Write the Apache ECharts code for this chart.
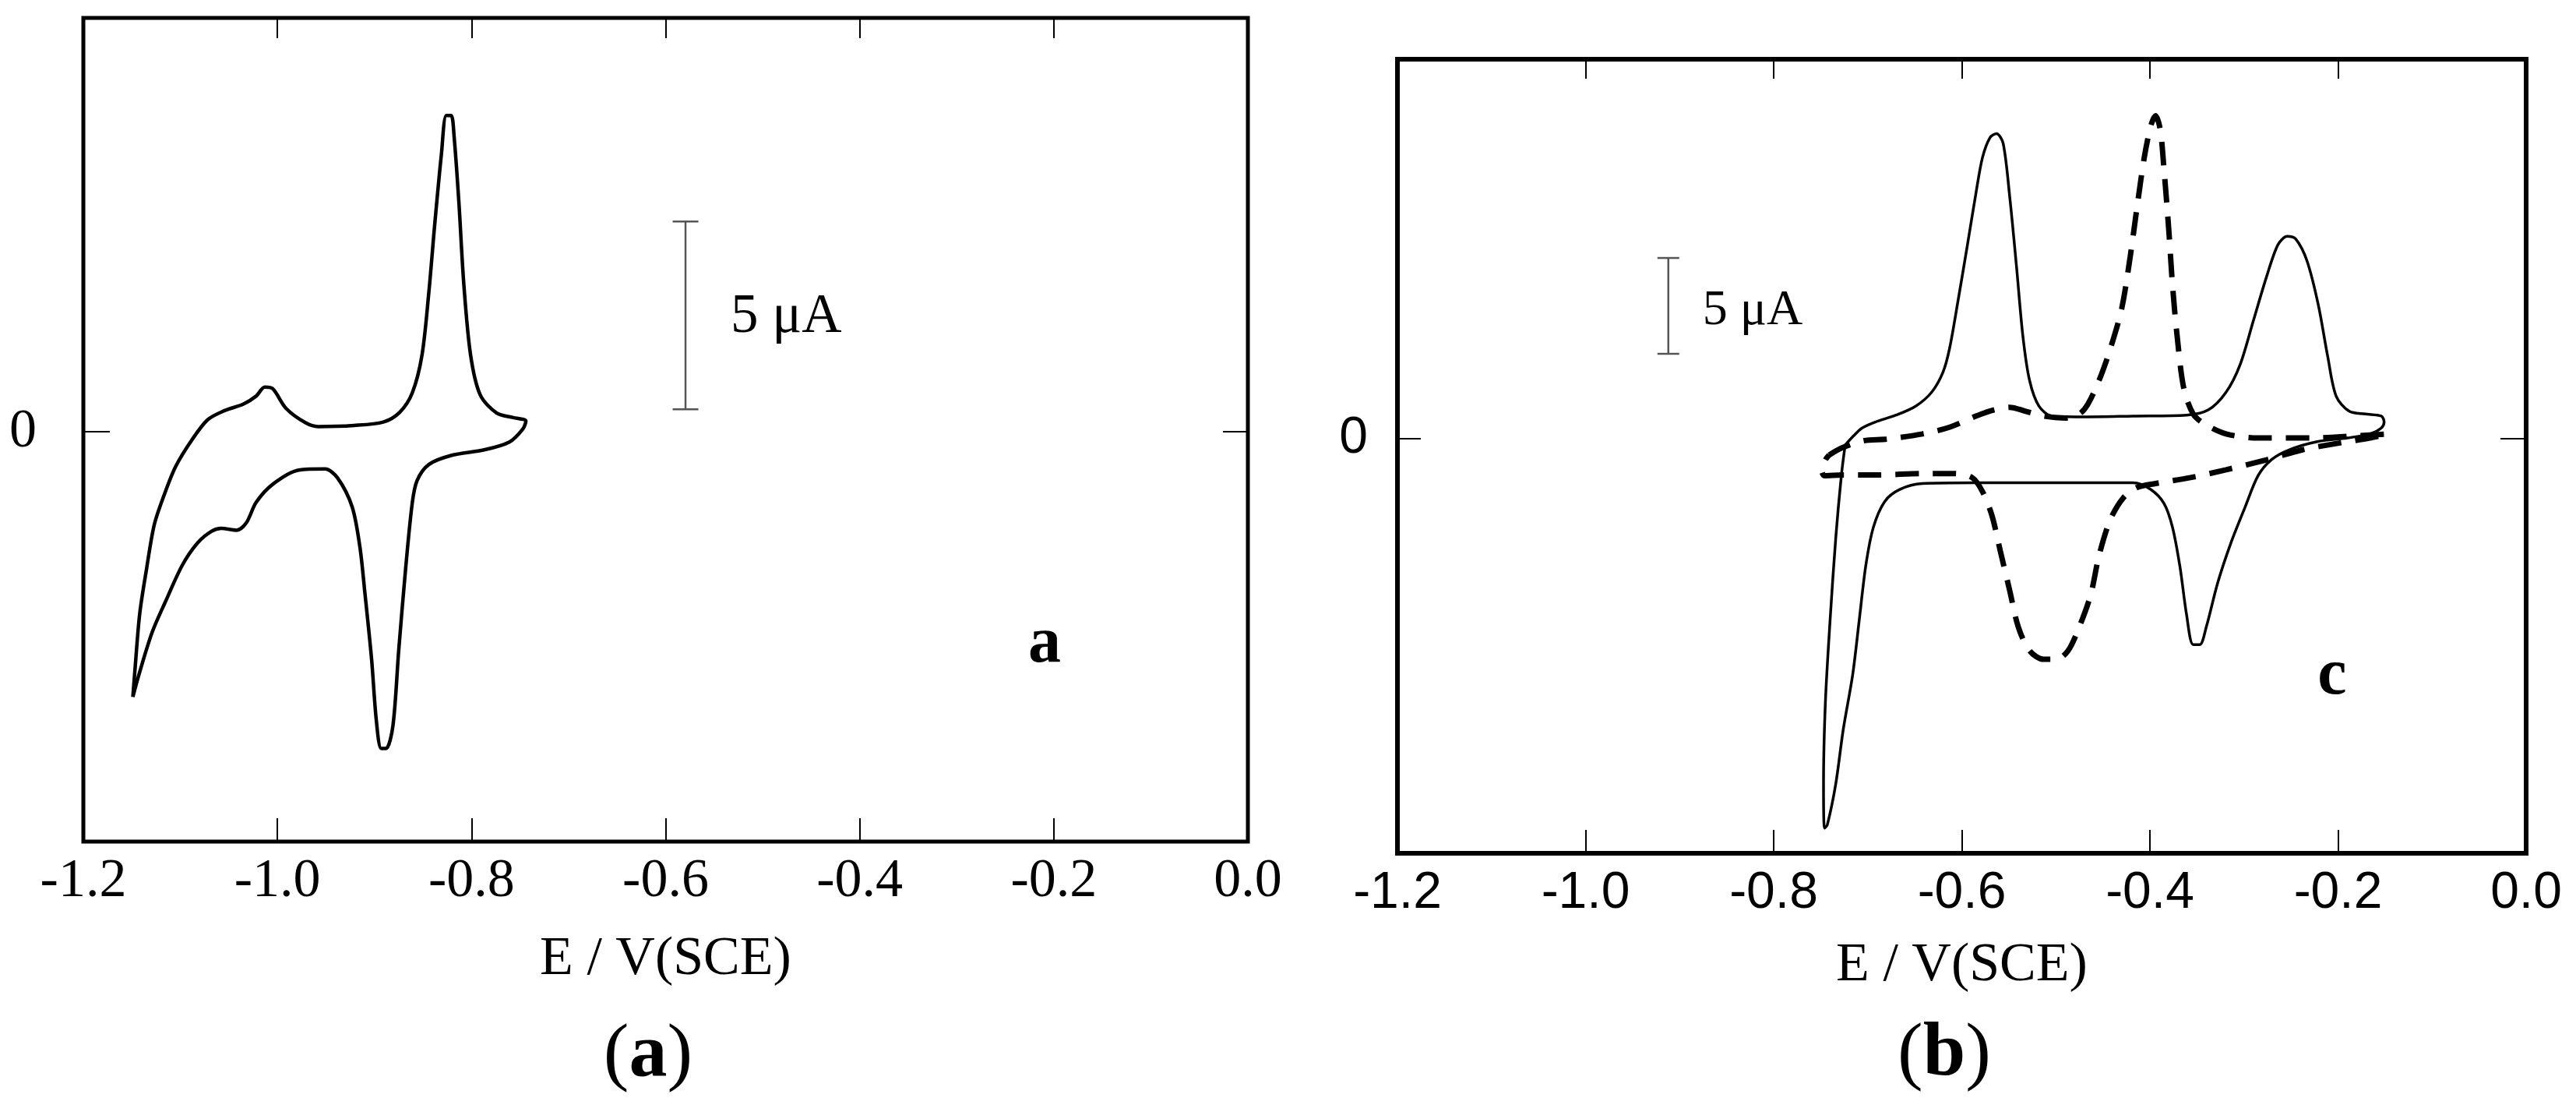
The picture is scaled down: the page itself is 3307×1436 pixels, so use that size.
<!DOCTYPE html>
<html>
<head>
<meta charset="utf-8">
<script src="https://cdn.jsdelivr.net/npm/echarts@6/dist/echarts.min.js"></script>
<style>
html,body{margin:0;padding:0;background:#fff;}
#chart{width:3307px;height:1436px;}
</style>
</head>
<body>
<div id="chart"></div>
<script>
// ---------------- DATA ----------------
// x axis: potential E / V(SCE)
const xMin = -1.2, xMax = 0.0, xStep = 0.2;
// y axis: current in µA (only 0 is labelled)
const yRangeA = [-10.91, 11.02];
const yRangeB = [-21.65, 19.78];
const yTickValues = [0];

// Panel (a): cyclic voltammogram, closed loop [E, I(µA)]
const curveA = [
  [-1.149,-7.06],[-1.147,-6.40],[-1.142,-4.86],[-1.135,-3.67],[-1.127,-2.48],[-1.117,-1.70],
  [-1.105,-0.93],[-1.088,-0.21],[-1.072,0.32],[-1.055,0.56],[-1.035,0.74],[-1.022,0.95],
  [-1.013,1.19],[-1.005,1.15],[-0.991,0.62],[-0.971,0.24],[-0.958,0.14],[-0.921,0.17],
  [-0.891,0.26],[-0.874,0.52],[-0.861,1.04],[-0.851,2.05],[-0.844,3.71],[-0.838,5.50],
  [-0.831,7.40],[-0.826,8.42],[-0.821,8.42],[-0.818,7.88],[-0.813,6.10],[-0.808,3.95],
  [-0.801,2.05],[-0.791,0.98],[-0.774,0.50],[-0.757,0.38],[-0.744,0.29],
  [-0.747,0.08],[-0.761,-0.27],[-0.787,-0.48],[-0.821,-0.63],[-0.844,-0.87],[-0.856,-1.29],
  [-0.861,-1.88],[-0.868,-3.67],[-0.875,-5.81],[-0.881,-7.83],[-0.888,-8.43],[-0.893,-8.43],
  [-0.898,-7.71],[-0.903,-6.05],[-0.910,-4.26],[-0.915,-3.07],[-0.923,-2.00],[-0.938,-1.23],
  [-0.951,-0.99],[-0.978,-1.02],[-1.005,-1.40],[-1.022,-1.88],[-1.032,-2.42],[-1.042,-2.62],
  [-1.058,-2.57],[-1.068,-2.65],[-1.082,-2.95],[-1.098,-3.55],[-1.115,-4.50],[-1.129,-5.33],
  [-1.142,-6.40],[-1.149,-7.06]
];

// Panel (b): solid voltammogram, closed loop [E, I(µA)]
const curveBSolid = [
  [-0.724,-0.35],[-0.715,0.13],[-0.706,0.54],[-0.692,0.85],[-0.670,1.21],[-0.649,1.68],
  [-0.632,2.41],[-0.620,3.45],[-0.613,4.69],[-0.604,7.18],[-0.594,10.09],[-0.585,12.78],
  [-0.578,14.65],[-0.570,15.69],[-0.563,15.90],[-0.556,15.38],[-0.549,12.58],[-0.542,9.05],
  [-0.535,5.31],[-0.528,3.03],[-0.518,1.68],[-0.504,1.16],[-0.466,1.12],[-0.418,1.16],
  [-0.361,1.21],[-0.338,1.48],[-0.319,2.41],[-0.304,3.86],[-0.290,6.14],[-0.276,8.43],
  [-0.264,10.09],[-0.254,10.54],[-0.245,10.40],[-0.233,9.26],[-0.221,6.97],[-0.211,4.28],
  [-0.202,2.20],[-0.188,1.41],[-0.171,1.27],[-0.154,1.16],[-0.151,0.85],
  [-0.154,0.54],[-0.166,0.23],[-0.190,0.02],[-0.223,-0.18],[-0.252,-0.60],[-0.271,-1.12],
  [-0.285,-1.95],[-0.299,-3.61],[-0.314,-5.47],[-0.328,-7.55],[-0.340,-9.83],[-0.347,-10.76],
  [-0.354,-10.76],[-0.361,-9.21],[-0.368,-6.72],[-0.376,-4.64],[-0.385,-3.40],[-0.399,-2.67],
  [-0.418,-2.32],[-0.490,-2.32],[-0.585,-2.32],[-0.642,-2.36],[-0.666,-2.67],[-0.682,-3.30],
  [-0.694,-4.64],[-0.702,-6.62],[-0.709,-9.47],[-0.716,-12.33],[-0.726,-15.18],[-0.734,-18.03],
  [-0.743,-20.17],[-0.746,-20.34],[-0.747,-18.03],[-0.745,-13.75],[-0.740,-9.47],[-0.734,-5.20],
  [-0.728,-1.92],[-0.724,-0.35]
];

// Panel (b): dashed voltammogram, closed loop [E, I(µA)]
const curveBDashed = [
  [-0.741,-0.87],[-0.727,-0.49],[-0.704,-0.12],[-0.680,-0.04],[-0.642,0.23],[-0.613,0.58],
  [-0.585,1.16],[-0.566,1.48],[-0.549,1.62],[-0.532,1.41],[-0.513,1.16],[-0.490,1.06],
  [-0.475,1.27],[-0.466,1.78],[-0.454,3.03],[-0.442,4.69],[-0.430,6.77],[-0.421,9.46],
  [-0.414,11.95],[-0.406,14.65],[-0.399,16.31],[-0.394,16.83],[-0.389,16.10],[-0.385,14.03],
  [-0.380,10.92],[-0.376,8.01],[-0.371,5.31],[-0.364,2.61],[-0.354,1.27],[-0.342,0.75],
  [-0.319,0.23],[-0.285,0.02],[-0.228,0.02],[-0.181,0.13],[-0.147,0.23],
  [-0.166,0.02],[-0.204,-0.29],[-0.238,-0.60],[-0.276,-1.12],[-0.319,-1.64],[-0.357,-2.05],
  [-0.394,-2.36],[-0.414,-2.57],[-0.428,-3.09],[-0.442,-4.23],[-0.454,-6.10],[-0.463,-8.17],
  [-0.475,-9.83],[-0.487,-11.08],[-0.499,-11.53],[-0.513,-11.53],[-0.528,-11.08],[-0.540,-9.83],
  [-0.549,-7.96],[-0.559,-5.89],[-0.568,-4.02],[-0.578,-2.78],[-0.589,-2.05],[-0.608,-1.84],
  [-0.642,-1.84],[-0.689,-1.91],[-0.727,-1.91],[-0.746,-1.95],[-0.749,-1.64],[-0.745,-1.12],
  [-0.741,-0.87]
];

// Scale bars: [E position, lower I, upper I] (5 µA long)
const scaleBarA = [[-0.5795, 0.60, 5.60]];
const scaleBarB = [[-0.912, 4.41, 9.41]];
const scaleLabel = '5 μA';
const xAxisTitle = 'E / V(SCE)';
const panelTags = ['a', 'c'];
const panelCaptions = ['a', 'b'];

// ---------------- CHART ----------------
const SERIF = 'Liberation Serif';
const SANS = 'Liberation Sans';
const chart = echarts.init(document.getElementById('chart'), null, {renderer: 'canvas'});

function fmtX(v) { return Math.abs(v) < 1e-9 ? '0.0' : v.toFixed(1); }

function bottomX(grid, font, size, margin, nameGap) {
  return {
    gridIndex: grid, type: 'value', min: xMin, max: xMax, interval: xStep, position: 'bottom',
    axisLine: {show: false, onZero: false}, splitLine: {show: false},
    axisTick: {inside: true, length: 30, lineStyle: {color: '#000', width: 2}},
    axisLabel: {formatter: fmtX, color: '#000', fontFamily: font, fontSize: size, margin: margin},
    name: xAxisTitle, nameLocation: 'middle', nameGap: nameGap,
    nameTextStyle: {fontFamily: SERIF, fontSize: 70, color: '#000'}
  };
}
function topX(grid, len) {
  return {
    gridIndex: grid, type: 'value', min: xMin, max: xMax, interval: xStep, position: 'top',
    axisLine: {show: false, onZero: false}, splitLine: {show: false},
    axisTick: {inside: true, length: len, lineStyle: {color: '#000', width: 2}},
    axisLabel: {show: false}
  };
}
function leftY(grid, range, font, size, margin, len) {
  return {
    gridIndex: grid, type: 'value', min: range[0], max: range[1], position: 'left',
    axisLine: {show: false, onZero: false}, splitLine: {show: false},
    axisTick: {inside: true, length: len, customValues: yTickValues, lineStyle: {color: '#000', width: 2}},
    axisLabel: {customValues: yTickValues, formatter: v => String(Math.round(v)), color: '#000',
                fontFamily: font, fontSize: size, margin: margin}
  };
}
function rightY(grid, range, len) {
  return {
    gridIndex: grid, type: 'value', min: range[0], max: range[1], position: 'right',
    axisLine: {show: false, onZero: false}, splitLine: {show: false},
    axisTick: {inside: true, length: len, customValues: yTickValues, lineStyle: {color: '#000', width: 2}},
    axisLabel: {show: false}
  };
}

function scaleBarSeries(xi, yi, data, capHalf, textDx, textDy, fontSize) {
  return {
    type: 'custom', xAxisIndex: xi, yAxisIndex: yi, data: data, silent: true,
    encode: {x: 0, y: [1, 2]}, clip: false,
    renderItem: function (params, api) {
      const x = api.value(0), lo = api.value(1), hi = api.value(2);
      const pT = api.coord([x, hi]), pB = api.coord([x, lo]);
      const st = {stroke: '#555', lineWidth: 2.5};
      return {
        type: 'group',
        children: [
          {type: 'line', shape: {x1: pT[0], y1: pT[1], x2: pB[0], y2: pB[1]}, style: st},
          {type: 'line', shape: {x1: pT[0] - capHalf, y1: pT[1], x2: pT[0] + capHalf, y2: pT[1]}, style: st},
          {type: 'line', shape: {x1: pB[0] - capHalf, y1: pB[1], x2: pB[0] + capHalf, y2: pB[1]}, style: st},
          {type: 'text', style: {text: scaleLabel, x: pT[0] + textDx, y: (pT[1] + pB[1]) / 2 + textDy,
            fill: '#000', fontFamily: SERIF, fontSize: fontSize, align: 'left', verticalAlign: 'middle'}}
        ]
      };
    }
  };
}

const richCaption = {
  p: {fontFamily: SERIF, fontSize: 98, fontWeight: 'normal', fill: '#000'},
  b: {fontFamily: SERIF, fontSize: 98, fontWeight: 'bold', fill: '#000'}
};

const option = {
  backgroundColor: '#fff',
  animation: false,
  grid: [
    {left: 107, top: 23, width: 1495, height: 1057, show: true, borderColor: '#000', borderWidth: 5, backgroundColor: 'transparent'},
    {left: 1794, top: 76, width: 1449, height: 1019, show: true, borderColor: '#000', borderWidth: 6, backgroundColor: 'transparent'}
  ],
  xAxis: [
    bottomX(0, SERIF, 70, 17, 117),
    topX(0, 26),
    bottomX(1, SANS, 66, 19, 110),
    topX(1, 25)
  ],
  yAxis: [
    leftY(0, yRangeA, SERIF, 70, 60, 34),
    rightY(0, yRangeA, 32),
    leftY(1, yRangeB, SANS, 66, 38, 30),
    rightY(1, yRangeB, 33)
  ],
  series: [
    {type: 'line', xAxisIndex: 0, yAxisIndex: 0, data: curveA, showSymbol: false, symbol: 'none',
     smooth: 0.3, lineStyle: {color: '#000', width: 4.5}},
    {type: 'line', xAxisIndex: 2, yAxisIndex: 2, data: curveBSolid, showSymbol: false, symbol: 'none',
     smooth: 0.3, lineStyle: {color: '#000', width: 3.5}},
    {type: 'line', xAxisIndex: 2, yAxisIndex: 2, data: curveBDashed, showSymbol: false, symbol: 'none',
     smooth: 0.3, lineStyle: {color: '#000', width: 7, type: [30, 18], cap: 'butt'}},
    scaleBarSeries(0, 0, scaleBarA, 16.5, 58, 3, 71),
    scaleBarSeries(2, 2, scaleBarB, 14, 44, 7, 64)
  ],
  graphic: [
    {type: 'text', style: {text: panelTags[0], x: 1341, y: 827, align: 'center', verticalAlign: 'middle',
      fontFamily: SERIF, fontWeight: 'bold', fontSize: 84, fill: '#000'}},
    {type: 'text', style: {text: panelTags[1], x: 2994, y: 868, align: 'center', verticalAlign: 'middle',
      fontFamily: SERIF, fontWeight: 'bold', fontSize: 84, fill: '#000'}},
    {type: 'text', style: {text: '{p|(}{b|' + panelCaptions[0] + '}{p|)}', x: 832, y: 1355,
      align: 'center', verticalAlign: 'middle', rich: richCaption}},
    {type: 'text', style: {text: '{p|(}{b|' + panelCaptions[1] + '}{p|)}', x: 2496, y: 1354,
      align: 'center', verticalAlign: 'middle', rich: richCaption}}
  ]
};
chart.setOption(option);
</script>
</body>
</html>
